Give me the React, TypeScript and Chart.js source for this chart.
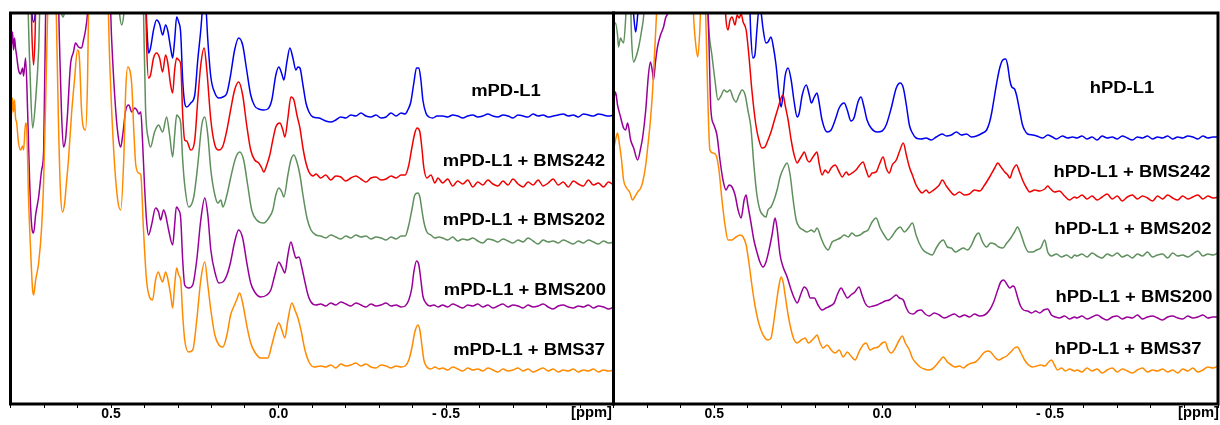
import React, { useEffect, useRef } from "react";
import { Chart, registerables } from "chart.js";

Chart.register(...registerables);

// ---------- axis ----------
const TICK_VALUES = [0.8, 0.7, 0.6, 0.5, 0.4, 0.3, 0.2, 0.1, 0, -0.1, -0.2, -0.3, -0.4, -0.5, -0.6, -0.7, -0.8, -0.9, -1.0];
const TICK_TEXT = ["", "", "", "0.5", "", "", "", "", "0.0", "", "", "", "", "- 0.5", "", "", "", "", ""];
const UNIT_LABEL = "[ppm]";

// ---------- series names / colours ----------
const LEFT_LABELS = ["mPD-L1", "mPD-L1 + BMS242", "mPD-L1 + BMS202", "mPD-L1 + BMS200", "mPD-L1 + BMS37"];
const RIGHT_LABELS = ["hPD-L1", "hPD-L1 + BMS242", "hPD-L1 + BMS202", "hPD-L1 + BMS200", "hPD-L1 + BMS37"];
const SERIES_COLORS = ["#0000f0", "#f00000", "#5e8f5c", "#990099", "#ff8a00"];

// ---------- shared baseline grids (ppm) ----------
const LEFT_TAIL_PPM = [-0.49, -0.505, -0.52, -0.535, -0.55, -0.565, -0.58, -0.595, -0.61, -0.625, -0.64, -0.655, -0.67, -0.685, -0.7, -0.715, -0.73, -0.745, -0.76, -0.775, -0.79, -0.805, -0.82, -0.835, -0.85, -0.865, -0.88, -0.895, -0.91, -0.925, -0.94, -0.955, -0.97, -0.985, -1.0];
const RIGHT_TAIL_PPM = [-0.58, -0.595, -0.61, -0.625, -0.64, -0.655, -0.67, -0.685, -0.7, -0.715, -0.73, -0.745, -0.76, -0.775, -0.79, -0.805, -0.82, -0.835, -0.85, -0.865, -0.88, -0.895, -0.91, -0.925, -0.94, -0.955, -0.97, -0.985, -1.0];

// ---------- left panel (mPD-L1) : [ppm, intensity] ----------
const M_BLUE = [[0.8,440],[0.74,420],[0.737,395],[0.731,382],[0.725,395],[0.719,430],[0.411,440],[0.397,420],[0.394,384],[0.391,364],[0.388,351],[0.382,356],[0.373,374],[0.364,384],[0.355,380],[0.346,369],[0.337,379],[0.331,374],[0.322,356],[0.316,346],[0.31,364],[0.304,387],[0.298,382],[0.292,371],[0.286,324],[0.28,301],[0.274,297],[0.262,301],[0.25,309],[0.241,344],[0.232,374],[0.226,399],[0.222,409],[0.217,399],[0.211,364],[0.202,327],[0.19,311],[0.178,306],[0.166,307],[0.154,311],[0.143,329],[0.131,354],[0.119,366],[0.107,359],[0.095,334],[0.083,309],[0.071,298],[0.059,295],[0.044,294],[0.032,295],[0.02,304],[0.008,329],[-0.001,337],[-0.01,330],[-0.016,324],[-0.025,342],[-0.034,356],[-0.043,346],[-0.052,334],[-0.058,337],[-0.064,336],[-0.073,319],[-0.082,301],[-0.091,292],[-0.103,287],[-0.121,286],[-0.141,283],[-0.156,282],[-0.171,284],[-0.186,287],[-0.201,286],[-0.216,289],[-0.231,288],[-0.246,291],[-0.261,288],[-0.276,287],[-0.291,289],[-0.306,286],[-0.321,287],[-0.336,291],[-0.351,288],[-0.366,291],[-0.378,290],[-0.386,294],[-0.395,302],[-0.404,321],[-0.412,336],[-0.419,336],[-0.425,324],[-0.431,304],[-0.44,291],[-0.449,287],[-0.461,286],[-0.473,288]];
const M_BLUE_TAIL = [288,287,289,288,286,288,289,287,288,290,288,287,289,288,286,289,288,287,290,288,289,287,288,289,290,288,289,287,290,289,288,290,289,288,289];

const M_RED = [[0.8,440],[0.74,430],[0.736,369],[0.731,339],[0.727,364],[0.722,430],[0.403,440],[0.397,420],[0.394,364],[0.388,326],[0.382,329],[0.373,346],[0.364,351],[0.355,346],[0.346,332],[0.337,349],[0.331,342],[0.322,319],[0.316,311],[0.31,334],[0.304,346],[0.298,344],[0.292,340],[0.286,289],[0.28,264],[0.274,263],[0.262,254],[0.25,264],[0.241,304],[0.232,339],[0.222,356],[0.214,334],[0.202,284],[0.19,259],[0.178,254],[0.166,258],[0.154,274],[0.143,294],[0.131,314],[0.119,322],[0.107,309],[0.095,279],[0.083,254],[0.071,244],[0.059,241],[0.05,236],[0.044,232],[0.035,239],[0.026,249],[0.017,264],[0.008,277],[-0.004,281],[-0.013,274],[-0.019,267],[-0.028,286],[-0.037,307],[-0.046,304],[-0.055,289],[-0.064,276],[-0.073,256],[-0.082,241],[-0.091,232],[-0.103,228],[-0.112,230],[-0.126,226],[-0.141,229],[-0.156,224],[-0.171,228],[-0.186,227],[-0.201,223],[-0.216,226],[-0.231,228],[-0.246,225],[-0.261,222],[-0.276,226],[-0.291,227],[-0.306,224],[-0.321,225],[-0.336,228],[-0.351,226],[-0.366,229],[-0.378,229],[-0.389,239],[-0.398,256],[-0.407,271],[-0.414,276],[-0.422,272],[-0.428,256],[-0.434,236],[-0.443,226],[-0.455,229],[-0.467,221],[-0.476,226]];
const M_RED_TAIL = [221,225,218,223,220,224,217,222,219,224,220,218,223,219,225,220,217,222,219,224,218,221,225,219,222,217,223,220,218,224,219,221,217,222,219];

const M_GREEN = [[0.8,440],[0.752,430],[0.743,344],[0.734,276],[0.725,304],[0.716,354],[0.71,420],[0.657,430],[0.648,392],[0.643,387],[0.639,392],[0.63,430],[0.483,430],[0.474,389],[0.468,379],[0.462,389],[0.453,430],[0.406,440],[0.403,394],[0.397,297],[0.388,264],[0.382,257],[0.37,272],[0.358,279],[0.346,272],[0.334,287],[0.325,269],[0.316,247],[0.31,269],[0.304,289],[0.298,287],[0.292,281],[0.286,244],[0.28,219],[0.268,197],[0.253,207],[0.241,239],[0.229,279],[0.22,287],[0.211,269],[0.202,234],[0.19,209],[0.181,201],[0.172,204],[0.166,197],[0.154,209],[0.143,226],[0.128,246],[0.116,252],[0.104,244],[0.092,219],[0.08,194],[0.065,184],[0.044,181],[0.029,186],[0.017,194],[0.008,209],[-0.001,216],[-0.01,212],[-0.016,207],[-0.028,229],[-0.037,244],[-0.046,249],[-0.055,242],[-0.064,229],[-0.073,209],[-0.085,186],[-0.097,174],[-0.112,169],[-0.126,168],[-0.141,166],[-0.156,169],[-0.171,167],[-0.186,165],[-0.201,168],[-0.216,166],[-0.231,169],[-0.246,167],[-0.261,168],[-0.276,165],[-0.291,167],[-0.306,166],[-0.321,164],[-0.336,167],[-0.351,165],[-0.366,168],[-0.378,168],[-0.389,179],[-0.398,194],[-0.407,209],[-0.416,211],[-0.422,207],[-0.428,194],[-0.434,182],[-0.443,172],[-0.455,169],[-0.467,166],[-0.479,167]];
const M_GREEN_TAIL = [166,164,167,163,165,164,166,163,161,165,164,162,165,163,161,164,162,166,163,160,164,162,163,161,164,162,160,163,161,164,162,160,163,161,162];

const M_PURPLE = [[0.8,369],[0.797,359],[0.794,372],[0.791,354],[0.788,366],[0.785,356],[0.782,349],[0.776,334],[0.77,330],[0.764,336],[0.761,328],[0.755,346],[0.749,294],[0.743,224],[0.737,179],[0.731,171],[0.725,189],[0.716,207],[0.707,234],[0.701,254],[0.695,394],[0.689,440],[0.66,440],[0.654,364],[0.648,294],[0.642,257],[0.636,264],[0.63,289],[0.621,339],[0.612,352],[0.606,361],[0.597,357],[0.588,356],[0.582,364],[0.576,374],[0.57,392],[0.564,440],[0.507,440],[0.498,364],[0.486,294],[0.477,264],[0.471,257],[0.465,269],[0.456,294],[0.447,299],[0.438,292],[0.429,296],[0.423,294],[0.417,290],[0.411,292],[0.406,264],[0.4,219],[0.394,184],[0.388,169],[0.379,179],[0.367,196],[0.358,192],[0.352,184],[0.343,194],[0.337,189],[0.328,174],[0.316,159],[0.31,179],[0.305,197],[0.298,194],[0.292,186],[0.286,144],[0.28,119],[0.268,116],[0.256,119],[0.244,144],[0.232,184],[0.22,206],[0.211,189],[0.202,154],[0.19,132],[0.178,121],[0.166,122],[0.154,129],[0.143,142],[0.131,162],[0.119,174],[0.107,166],[0.095,142],[0.083,121],[0.071,112],[0.053,107],[0.035,109],[0.023,114],[0.011,129],[-0.001,142],[-0.01,137],[-0.019,131],[-0.028,149],[-0.037,162],[-0.046,152],[-0.052,146],[-0.061,147],[-0.07,136],[-0.079,122],[-0.088,109],[-0.097,102],[-0.112,99],[-0.126,100],[-0.141,98],[-0.156,101],[-0.171,99],[-0.186,102],[-0.201,100],[-0.216,98],[-0.231,101],[-0.246,99],[-0.261,97],[-0.276,100],[-0.291,98],[-0.306,99],[-0.321,101],[-0.336,98],[-0.351,99],[-0.366,97],[-0.378,98],[-0.389,104],[-0.398,116],[-0.404,132],[-0.412,143],[-0.419,139],[-0.425,124],[-0.431,108],[-0.44,101],[-0.452,98],[-0.464,99],[-0.476,97]];
const M_PURPLE_TAIL = [99,97,100,98,96,99,98,100,97,99,96,98,100,97,99,98,96,99,97,98,100,97,95,98,99,97,96,98,97,99,96,98,97,95,97];

const M_ORANGE = [[0.8,304],[0.797,289],[0.794,306],[0.791,292],[0.788,304],[0.785,286],[0.782,282],[0.776,261],[0.77,254],[0.764,258],[0.761,254],[0.755,281],[0.752,278],[0.746,204],[0.74,154],[0.734,114],[0.731,109],[0.725,124],[0.716,141],[0.707,177],[0.701,224],[0.695,304],[0.689,394],[0.686,440],[0.669,440],[0.663,384],[0.657,284],[0.651,214],[0.645,192],[0.639,199],[0.633,221],[0.627,244],[0.618,289],[0.609,324],[0.6,354],[0.594,344],[0.588,294],[0.582,276],[0.576,274],[0.57,324],[0.567,394],[0.564,440],[0.513,440],[0.504,344],[0.492,254],[0.48,204],[0.471,194],[0.462,244],[0.456,314],[0.45,337],[0.444,334],[0.438,319],[0.432,274],[0.426,239],[0.417,231],[0.411,229],[0.403,174],[0.394,124],[0.385,107],[0.376,104],[0.367,124],[0.359,132],[0.352,126],[0.346,122],[0.337,132],[0.331,126],[0.322,109],[0.316,96],[0.31,119],[0.304,136],[0.298,129],[0.292,124],[0.286,89],[0.28,64],[0.268,52],[0.256,54],[0.244,84],[0.232,124],[0.22,142],[0.211,119],[0.202,94],[0.19,69],[0.178,59],[0.166,57],[0.154,69],[0.143,89],[0.134,97],[0.125,104],[0.116,111],[0.107,101],[0.095,79],[0.083,61],[0.071,52],[0.053,46],[0.032,46],[0.02,59],[0.008,74],[-0.001,81],[-0.01,74],[-0.019,66],[-0.028,84],[-0.04,101],[-0.049,94],[-0.058,86],[-0.067,74],[-0.079,54],[-0.091,42],[-0.106,37],[-0.126,38],[-0.141,37],[-0.156,39],[-0.171,36],[-0.186,40],[-0.201,38],[-0.216,39],[-0.231,41],[-0.246,38],[-0.261,40],[-0.276,37],[-0.291,36],[-0.306,39],[-0.321,38],[-0.336,36],[-0.351,38],[-0.366,37],[-0.378,38],[-0.389,44],[-0.398,56],[-0.407,72],[-0.416,79],[-0.422,74],[-0.428,59],[-0.434,44],[-0.443,37],[-0.455,35],[-0.467,37],[-0.479,35]];
const M_ORANGE_TAIL = [36,34,37,35,33,36,34,35,33,36,34,32,35,33,34,36,33,35,32,34,36,33,35,32,34,33,35,32,34,33,35,32,34,33,34];

// ---------- right panel (hPD-L1) : [ppm, intensity] ----------
const H_BLUE = [[0.8,440],[0.749,430],[0.74,389],[0.734,372],[0.728,389],[0.719,430],[0.411,440],[0.397,420],[0.391,369],[0.385,346],[0.379,349],[0.373,374],[0.367,394],[0.361,392],[0.355,376],[0.346,361],[0.34,362],[0.331,367],[0.325,359],[0.316,339],[0.307,309],[0.301,297],[0.295,309],[0.289,328],[0.28,336],[0.271,324],[0.262,302],[0.253,287],[0.247,291],[0.238,309],[0.226,319],[0.217,309],[0.211,301],[0.202,307],[0.194,311],[0.188,302],[0.179,284],[0.164,272],[0.152,274],[0.14,284],[0.128,296],[0.113,301],[0.104,294],[0.093,283],[0.084,286],[0.072,302],[0.063,307],[0.054,297],[0.045,284],[0.033,276],[0.015,272],[0,273],[-0.012,279],[-0.027,296],[-0.042,316],[-0.054,321],[-0.063,316],[-0.072,299],[-0.081,279],[-0.09,271],[-0.101,266],[-0.116,265],[-0.131,266],[-0.146,264],[-0.161,267],[-0.179,270],[-0.191,268],[-0.206,269],[-0.221,272],[-0.236,269],[-0.251,270],[-0.266,267],[-0.281,268],[-0.299,271],[-0.311,274],[-0.32,282],[-0.326,291],[-0.335,309],[-0.341,321],[-0.35,336],[-0.359,344],[-0.368,345],[-0.374,338],[-0.38,324],[-0.386,317],[-0.394,315],[-0.4,309],[-0.409,294],[-0.418,279],[-0.424,274],[-0.433,270],[-0.448,269],[-0.46,268],[-0.478,266],[-0.493,269],[-0.507,267],[-0.519,265],[-0.537,268],[-0.552,266],[-0.567,267]];
const H_BLUE_TAIL = [266,268,265,267,264,268,266,267,265,268,266,264,267,266,268,265,267,266,268,265,267,266,268,267,265,268,266,267,267];

const H_RED = [[0.8,440],[0.48,440],[0.471,420],[0.465,384],[0.459,374],[0.453,384],[0.447,387],[0.438,379],[0.432,389],[0.426,386],[0.42,390],[0.414,382],[0.405,374],[0.397,349],[0.388,314],[0.376,279],[0.367,264],[0.358,256],[0.349,257],[0.34,264],[0.331,272],[0.319,286],[0.31,296],[0.301,306],[0.295,309],[0.289,299],[0.28,284],[0.271,264],[0.262,249],[0.253,241],[0.247,244],[0.238,249],[0.232,252],[0.223,244],[0.217,242],[0.208,246],[0.202,249],[0.194,252],[0.188,241],[0.179,229],[0.17,234],[0.161,231],[0.152,236],[0.14,239],[0.128,232],[0.119,227],[0.107,232],[0.099,229],[0.09,231],[0.078,234],[0.069,238],[0.057,242],[0.048,234],[0.039,227],[0.03,231],[0.018,232],[0.009,239],[-0.003,247],[-0.012,236],[-0.021,231],[-0.03,239],[-0.042,244],[-0.051,252],[-0.063,261],[-0.072,249],[-0.081,237],[-0.09,229],[-0.101,219],[-0.11,214],[-0.119,211],[-0.131,214],[-0.14,211],[-0.149,213],[-0.161,216],[-0.17,219],[-0.179,224],[-0.191,218],[-0.2,214],[-0.215,209],[-0.23,212],[-0.245,209],[-0.26,210],[-0.275,214],[-0.29,213],[-0.305,219],[-0.32,227],[-0.335,236],[-0.344,241],[-0.356,236],[-0.365,232],[-0.374,229],[-0.38,226],[-0.389,234],[-0.4,239],[-0.409,232],[-0.418,224],[-0.43,216],[-0.439,212],[-0.454,214],[-0.469,213],[-0.484,215],[-0.493,218],[-0.499,216],[-0.513,212],[-0.528,213],[-0.543,208],[-0.558,204],[-0.573,207]];
const H_RED_TAIL = [206,209,205,208,204,207,210,205,208,203,207,209,205,208,206,203,208,205,209,206,204,208,205,207,209,205,208,206,207];

const H_GREEN = [[0.8,377],[0.794,381],[0.788,369],[0.785,357],[0.779,366],[0.776,364],[0.77,361],[0.764,384],[0.758,430],[0.752,430],[0.746,364],[0.74,342],[0.734,346],[0.725,357],[0.716,374],[0.71,389],[0.704,430],[0.531,440],[0.522,420],[0.516,374],[0.507,349],[0.498,324],[0.489,304],[0.48,308],[0.471,314],[0.462,312],[0.453,314],[0.444,306],[0.435,302],[0.426,309],[0.417,314],[0.408,309],[0.4,294],[0.391,277],[0.382,239],[0.373,209],[0.364,194],[0.355,189],[0.346,187],[0.34,194],[0.331,197],[0.322,204],[0.313,214],[0.304,227],[0.292,237],[0.283,241],[0.274,229],[0.265,204],[0.256,184],[0.247,177],[0.235,174],[0.223,172],[0.211,174],[0.202,172],[0.194,176],[0.182,166],[0.173,159],[0.161,154],[0.149,162],[0.137,164],[0.125,166],[0.113,169],[0.101,167],[0.09,171],[0.078,168],[0.066,169],[0.054,172],[0.042,174],[0.03,182],[0.018,186],[0.006,176],[-0.006,169],[-0.018,164],[-0.03,168],[-0.042,174],[-0.054,177],[-0.066,172],[-0.078,176],[-0.09,181],[-0.101,169],[-0.11,161],[-0.122,154],[-0.134,151],[-0.149,149],[-0.161,156],[-0.173,162],[-0.182,164],[-0.194,157],[-0.206,156],[-0.218,152],[-0.23,154],[-0.242,156],[-0.254,154],[-0.266,159],[-0.278,168],[-0.287,171],[-0.299,162],[-0.311,157],[-0.323,161],[-0.335,160],[-0.347,157],[-0.359,156],[-0.371,161],[-0.383,166],[-0.394,172],[-0.403,177],[-0.412,171],[-0.424,159],[-0.436,152],[-0.448,152],[-0.46,154],[-0.472,156],[-0.484,164],[-0.493,152],[-0.504,148],[-0.519,150],[-0.534,147],[-0.549,149],[-0.564,146],[-0.573,149]];
const H_GREEN_TAIL = [148,150,147,151,148,146,150,148,151,147,149,146,150,148,152,147,149,150,146,151,148,149,147,150,153,148,150,149,151];

const H_PURPLE = [[0.8,304],[0.794,312],[0.788,299],[0.779,287],[0.77,276],[0.764,274],[0.758,281],[0.749,264],[0.74,256],[0.728,244],[0.719,256],[0.713,267],[0.704,294],[0.696,329],[0.69,342],[0.684,332],[0.681,324],[0.675,342],[0.669,357],[0.66,369],[0.651,377],[0.645,386],[0.636,396],[0.63,430],[0.531,440],[0.522,420],[0.516,364],[0.51,294],[0.501,279],[0.492,269],[0.483,244],[0.474,224],[0.465,214],[0.456,219],[0.447,217],[0.438,209],[0.429,194],[0.42,186],[0.411,204],[0.405,209],[0.4,199],[0.391,182],[0.382,164],[0.373,152],[0.364,142],[0.355,137],[0.346,142],[0.337,154],[0.328,169],[0.319,186],[0.313,176],[0.304,149],[0.295,137],[0.283,127],[0.271,114],[0.262,106],[0.253,101],[0.241,111],[0.232,117],[0.223,114],[0.214,106],[0.202,106],[0.191,99],[0.179,94],[0.167,96],[0.155,98],[0.143,101],[0.134,109],[0.122,116],[0.113,111],[0.104,106],[0.093,109],[0.081,112],[0.069,117],[0.06,109],[0.051,101],[0.039,97],[0.027,98],[0.015,99],[0.003,101],[-0.009,103],[-0.021,104],[-0.033,107],[-0.042,109],[-0.051,106],[-0.063,104],[-0.072,96],[-0.081,91],[-0.093,90],[-0.104,93],[-0.116,94],[-0.128,90],[-0.14,88],[-0.155,91],[-0.17,89],[-0.185,86],[-0.2,88],[-0.215,90],[-0.23,87],[-0.245,89],[-0.26,87],[-0.275,90],[-0.29,88],[-0.305,89],[-0.32,94],[-0.332,102],[-0.344,114],[-0.353,122],[-0.362,124],[-0.371,120],[-0.38,116],[-0.389,118],[-0.394,117],[-0.403,107],[-0.412,98],[-0.421,94],[-0.433,93],[-0.445,91],[-0.457,93],[-0.469,91],[-0.481,94],[-0.493,95],[-0.504,89],[-0.516,87],[-0.528,86],[-0.543,88],[-0.558,85],[-0.573,87]];
const H_PURPLE_TAIL = [86,88,85,87,89,86,84,87,88,85,87,86,89,85,87,88,86,84,87,88,86,85,88,86,87,89,86,87,87];

const H_ORANGE = [[0.8,254],[0.794,264],[0.788,271],[0.782,259],[0.776,244],[0.77,224],[0.761,216],[0.752,212],[0.743,204],[0.737,207],[0.728,212],[0.719,216],[0.713,222],[0.704,239],[0.699,254],[0.69,284],[0.684,311],[0.678,349],[0.672,389],[0.666,430],[0.567,430],[0.561,384],[0.555,359],[0.549,347],[0.543,374],[0.537,430],[0.531,440],[0.525,384],[0.519,304],[0.513,254],[0.504,251],[0.495,249],[0.486,234],[0.477,204],[0.468,179],[0.459,164],[0.447,164],[0.435,167],[0.423,169],[0.414,167],[0.405,159],[0.397,142],[0.388,119],[0.379,99],[0.37,84],[0.361,74],[0.349,66],[0.34,64],[0.331,66],[0.322,84],[0.313,106],[0.307,119],[0.301,127],[0.295,122],[0.289,109],[0.28,89],[0.271,74],[0.262,64],[0.253,61],[0.241,64],[0.229,66],[0.22,61],[0.208,64],[0.2,67],[0.194,69],[0.185,61],[0.176,56],[0.164,59],[0.152,54],[0.14,51],[0.128,54],[0.116,47],[0.104,52],[0.093,48],[0.081,44],[0.069,52],[0.057,59],[0.048,61],[0.036,54],[0.024,56],[0.012,57],[0,61],[-0.009,62],[-0.018,54],[-0.027,51],[-0.039,56],[-0.051,64],[-0.06,68],[-0.069,61],[-0.081,54],[-0.09,46],[-0.101,41],[-0.113,37],[-0.125,35],[-0.137,34],[-0.149,35],[-0.161,39],[-0.173,44],[-0.182,47],[-0.194,42],[-0.206,39],[-0.218,37],[-0.23,38],[-0.242,36],[-0.254,39],[-0.266,41],[-0.278,42],[-0.29,46],[-0.302,51],[-0.314,53],[-0.323,52],[-0.335,47],[-0.347,44],[-0.359,46],[-0.371,48],[-0.383,52],[-0.394,56],[-0.403,57],[-0.412,52],[-0.424,44],[-0.436,39],[-0.448,37],[-0.46,38],[-0.472,39],[-0.484,38],[-0.496,42],[-0.504,44],[-0.513,39],[-0.522,34],[-0.534,36],[-0.546,33],[-0.558,35],[-0.573,33]];
const H_ORANGE_TAIL = [34,32,36,33,35,31,34,36,32,35,33,31,34,36,32,34,33,35,32,34,31,35,33,36,32,34,37,36,38];

// ---------- helpers ----------
function buildPoints(main: number[][], tailX: number[], tailY: number[]) {
  return main.map(([x, y]) => ({ x, y })).concat(tailX.map((x, i) => ({ x, y: tailY[i] })));
}

const FONT = "'Liberation Sans', Arial, Helvetica, sans-serif";

const framePlugin = {
  id: "frame",
  afterDraw(chart: any) {
    const { ctx, chartArea: a } = chart;
    ctx.save();
    ctx.strokeStyle = "#000";
    ctx.lineWidth = 3;
    ctx.strokeRect(a.left, a.top, a.right - a.left, a.bottom - a.top);
    ctx.restore();
  },
};

type PanelProps = {
  left: number;
  width: number;
  padLeft: number;
  padRight: number;
  series: { points: { x: number; y: number }[]; color: string }[];
};

function Panel({ left, width, padLeft, padRight, series }: PanelProps) {
  const ref = useRef<HTMLCanvasElement | null>(null);
  useEffect(() => {
    if (!ref.current) return;
    const chart = new Chart(ref.current, {
      type: "line",
      data: {
        datasets: series
          .slice()
          .reverse()
          .map((s) => ({
            data: s.points,
            borderColor: s.color,
            borderWidth: 1.5,
            pointRadius: 0,
            fill: false,
            cubicInterpolationMode: "monotone",
            clip: { left: 0, top: 0, right: 0, bottom: 0 },
          })) as any,
      },
      options: {
        animation: false,
        responsive: false,
        devicePixelRatio: 1,
        events: [],
        layout: { padding: { left: padLeft, right: padRight, top: 13, bottom: 0 } },
        plugins: { legend: { display: false }, tooltip: { enabled: false } },
        scales: {
          x: {
            type: "linear",
            reverse: true,
            min: -1.0,
            max: 0.8,
            afterBuildTicks: (axis: any) => {
              axis.ticks = TICK_VALUES.map((value) => ({ value }));
            },
            afterFit: (axis: any) => {
              axis.height = 21;
            },
            grid: { display: true, drawOnChartArea: false, drawTicks: true, tickLength: 4, color: "#000", lineWidth: 1 },
            border: { display: false },
            ticks: {
              autoSkip: false,
              maxRotation: 0,
              minRotation: 0,
              padding: -1,
              color: "#000",
              font: { family: FONT, size: 14, weight: "bold", lineHeight: 1 },
              callback: (_v: any, i: number) => TICK_TEXT[i],
            },
          },
          y: { type: "linear", display: false, min: 0, max: 391 },
        },
      } as any,
      plugins: [framePlugin],
    });
    return () => chart.destroy();
  }, []);
  return <canvas ref={ref} width={width} height={425} style={{ position: "absolute", left, top: 0 }} />;
}

type LabelPos = { cx?: number; rx?: number; cy: number };
const LEFT_LABEL_POS: LabelPos[] = [{ cx: 506, cy: 91 }, { rx: 605, cy: 161 }, { rx: 605, cy: 220 }, { rx: 606, cy: 290 }, { rx: 605, cy: 350 }];
const RIGHT_LABEL_POS: LabelPos[] = [{ cx: 1122, cy: 88 }, { rx: 1210, cy: 172 }, { rx: 1211, cy: 229 }, { rx: 1212, cy: 297 }, { rx: 1202, cy: 349 }];

function Label({ text, pos, size = 16, stretch = 1.15 }: { text: string; pos: LabelPos; size?: number; stretch?: number }) {
  const base: React.CSSProperties = {
    position: "absolute",
    top: pos.cy - 9,
    height: 18,
    lineHeight: "18px",
    fontFamily: FONT,
    fontWeight: 700,
    fontSize: size,
    color: "#000",
    whiteSpace: "nowrap",
  };
  if (pos.cx !== undefined) {
    return (
      <div style={{ ...base, left: pos.cx - 100, width: 200, textAlign: "center", transform: `scaleX(${stretch})`, transformOrigin: "center center" }}>
        {text}
      </div>
    );
  }
  return (
    <div style={{ ...base, right: 1220 - (pos.rx as number), textAlign: "right", transform: `scaleX(${stretch})`, transformOrigin: "right center" }}>
      {text}
    </div>
  );
}

export default function App() {
  const leftSeries = [
    buildPoints(M_BLUE, LEFT_TAIL_PPM, M_BLUE_TAIL),
    buildPoints(M_RED, LEFT_TAIL_PPM, M_RED_TAIL),
    buildPoints(M_GREEN, LEFT_TAIL_PPM, M_GREEN_TAIL),
    buildPoints(M_PURPLE, LEFT_TAIL_PPM, M_PURPLE_TAIL),
    buildPoints(M_ORANGE, LEFT_TAIL_PPM, M_ORANGE_TAIL),
  ].map((points, i) => ({ points, color: SERIES_COLORS[i] }));
  const rightSeries = [
    buildPoints(H_BLUE, RIGHT_TAIL_PPM, H_BLUE_TAIL),
    buildPoints(H_RED, RIGHT_TAIL_PPM, H_RED_TAIL),
    buildPoints(H_GREEN, RIGHT_TAIL_PPM, H_GREEN_TAIL),
    buildPoints(H_PURPLE, RIGHT_TAIL_PPM, H_PURPLE_TAIL),
    buildPoints(H_ORANGE, RIGHT_TAIL_PPM, H_ORANGE_TAIL),
  ].map((points, i) => ({ points, color: SERIES_COLORS[i] }));

  return (
    <div style={{ position: "fixed", left: 0, top: 0, width: 1220, height: 425, background: "#fff", overflow: "hidden" }}>
      <Panel left={0} width={615} padLeft={10.5} padRight={1.5} series={leftSeries} />
      <Panel left={612} width={608} padLeft={1.5} padRight={2} series={rightSeries} />
      {LEFT_LABELS.map((t, i) => (
        <Label key={"l" + i} text={t} pos={LEFT_LABEL_POS[i]} />
      ))}
      {RIGHT_LABELS.map((t, i) => (
        <Label key={"r" + i} text={t} pos={RIGHT_LABEL_POS[i]} />
      ))}
      <Label text={UNIT_LABEL} pos={{ rx: 612, cy: 412 }} size={14} stretch={1.05} />
      <Label text={UNIT_LABEL} pos={{ rx: 1219, cy: 412 }} size={14} stretch={1.05} />
    </div>
  );
}
